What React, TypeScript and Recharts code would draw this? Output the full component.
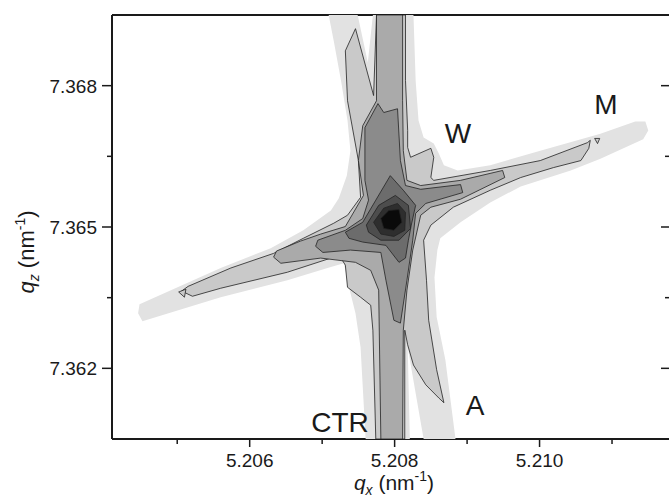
import { ScatterChart, Scatter, XAxis, YAxis } from "recharts";

// reciprocal space map around the (hkl) peak, contour levels drawn as filled polygons
type Pt = [number, number]; // [qx, qz] in nm^-1

const X_DOMAIN = [5.2041, 5.2118];
const Y_DOMAIN = [7.3605, 7.3695];
const X_TICKS = [5.205, 5.206, 5.207, 5.208, 5.209, 5.21, 5.211];
const X_LABELS = [5.206, 5.208, 5.21];
const Y_TICKS = [7.362, 7.3635, 7.365, 7.3665, 7.368];
const Y_LABELS = [7.362, 7.365, 7.368];

// outermost (lowest intensity) level
const LEVEL0: Pt[] = [
  [5.20448, 7.36336], [5.2056, 7.36413], [5.20629, 7.36455], [5.20674, 7.36493],
  [5.20712, 7.36535], [5.20723, 7.36561], [5.20734, 7.36609], [5.20739, 7.36662],
  [5.20735, 7.36726], [5.20726, 7.36811], [5.20716, 7.36895], [5.20709, 7.3695],
  [5.20749, 7.3695], [5.20763, 7.36849], [5.2077, 7.3695], [5.20826, 7.3695],
  [5.20829, 7.36811], [5.20833, 7.36726], [5.2084, 7.3669], [5.20854, 7.36677],
  [5.20861, 7.36656], [5.20868, 7.36631], [5.20887, 7.3662], [5.20932, 7.36631],
  [5.21001, 7.36662], [5.21084, 7.36698], [5.21132, 7.36724], [5.21146, 7.36724],
  [5.2115, 7.36705], [5.21143, 7.36686], [5.21084, 7.36645], [5.21043, 7.3662],
  [5.21001, 7.36599], [5.20974, 7.36586], [5.20932, 7.36552], [5.20891, 7.3651],
  [5.20863, 7.36476], [5.20859, 7.36451], [5.20855, 7.36393], [5.20858, 7.36309],
  [5.2087, 7.36218], [5.20884, 7.3605], [5.2084, 7.3605], [5.20818, 7.36245],
  [5.20821, 7.3605], [5.2076, 7.3605], [5.20753, 7.36245], [5.20746, 7.36317],
  [5.20739, 7.3636], [5.20735, 7.36387], [5.2073, 7.36423], [5.20712, 7.36415],
  [5.20652, 7.36387], [5.2056, 7.36351], [5.20452, 7.363], [5.20446, 7.36317],
];

const LEVEL1: Pt[] = [
  [5.20506, 7.36364], [5.20515, 7.36374], [5.20574, 7.36413], [5.20633, 7.36444],
  [5.20674, 7.36476], [5.20716, 7.36508], [5.20735, 7.36525], [5.20753, 7.36563],
  [5.2075, 7.36641], [5.20735, 7.36768], [5.20732, 7.36874], [5.20746, 7.36921],
  [5.20771, 7.36779], [5.20775, 7.3695], [5.20815, 7.3695], [5.20815, 7.36811],
  [5.20818, 7.36705], [5.20818, 7.36669], [5.20822, 7.36648], [5.2085, 7.36667],
  [5.20854, 7.36648], [5.2085, 7.36605], [5.20854, 7.36599], [5.20932, 7.3662],
  [5.21001, 7.36641], [5.21066, 7.36679], [5.2107, 7.36684], [5.21068, 7.36667],
  [5.21057, 7.36641], [5.21019, 7.36626], [5.20974, 7.36605], [5.20932, 7.36578],
  [5.20881, 7.36542], [5.2085, 7.36504], [5.2084, 7.36472], [5.20844, 7.36387],
  [5.20847, 7.36302], [5.20858, 7.36197], [5.20868, 7.36127], [5.20861, 7.36137],
  [5.20843, 7.36165], [5.20826, 7.36207], [5.20818, 7.3625], [5.20814, 7.36281],
  [5.20814, 7.3605], [5.20774, 7.3605], [5.2077, 7.36281], [5.20767, 7.36334],
  [5.20753, 7.36351], [5.20735, 7.36372], [5.20732, 7.36419], [5.20726, 7.36434],
  [5.20712, 7.36434], [5.20652, 7.36404], [5.2056, 7.3637], [5.20521, 7.36353],
];
const LEVEL1_TIP_LEFT: Pt[] = [[5.20502, 7.36362], [5.20512, 7.36368], [5.2051, 7.36351]];
const LEVEL1_TIP_RIGHT: Pt[] = [[5.21076, 7.36688], [5.21083, 7.36688], [5.2108, 7.36677]];

const LEVEL2: Pt[] = [
  [5.20633, 7.36436], [5.20637, 7.36449], [5.2067, 7.3647], [5.20698, 7.36485],
  [5.20732, 7.36501], [5.20757, 7.36567], [5.2075, 7.36641], [5.20756, 7.36715],
  [5.20775, 7.36768], [5.20775, 7.3695], [5.20811, 7.3695], [5.20811, 7.36768],
  [5.20812, 7.36662], [5.20817, 7.36599], [5.20836, 7.36588], [5.20891, 7.36599],
  [5.20949, 7.3662], [5.20952, 7.36605], [5.20891, 7.36559], [5.2085, 7.36542],
  [5.20836, 7.36525], [5.20825, 7.36451], [5.20817, 7.36366], [5.20812, 7.36281],
  [5.20811, 7.3605], [5.20781, 7.3605], [5.20778, 7.36366], [5.20767, 7.36408],
  [5.20746, 7.36425], [5.20698, 7.36434], [5.20643, 7.36423],
];

const LEVEL3: Pt[] = [
  [5.20691, 7.36459], [5.20694, 7.36472], [5.20732, 7.36493], [5.20756, 7.36518],
  [5.20764, 7.36557], [5.20759, 7.36599], [5.20759, 7.36711], [5.20777, 7.36762],
  [5.20785, 7.36743], [5.20804, 7.36751], [5.20808, 7.36641], [5.20815, 7.36588],
  [5.20836, 7.3658], [5.20891, 7.3659], [5.20894, 7.36573], [5.20843, 7.3655],
  [5.20829, 7.36529], [5.20825, 7.36472], [5.20817, 7.36387], [5.20808, 7.36296],
  [5.20799, 7.36302], [5.20788, 7.36387], [5.20781, 7.36446], [5.20739, 7.36451],
  [5.20701, 7.36446],
];

const LEVEL4: Pt[] = [
  [5.20732, 7.36489], [5.20756, 7.3651], [5.20774, 7.36557], [5.20794, 7.36609],
  [5.20812, 7.36578], [5.20829, 7.36546], [5.20823, 7.36504], [5.20819, 7.36472],
  [5.20815, 7.36434], [5.20806, 7.36425], [5.20788, 7.36461], [5.20756, 7.36468],
  [5.20737, 7.36476],
];

const LEVEL5: Pt[] = [
  [5.20761, 7.36504], [5.20778, 7.36546], [5.20801, 7.36567], [5.20819, 7.36546],
  [5.20822, 7.36497], [5.20806, 7.36472], [5.20781, 7.36472], [5.20764, 7.36489],
];

const LEVEL6: Pt[] = [
  [5.20771, 7.3651], [5.20785, 7.3654], [5.20804, 7.3655], [5.20815, 7.36531],
  [5.20814, 7.36493], [5.20799, 7.3648], [5.20781, 7.36485],
];

const LEVEL7: Pt[] = [
  [5.20781, 7.36518], [5.20792, 7.36535], [5.20806, 7.36537], [5.2081, 7.3651],
  [5.20799, 7.36493], [5.20785, 7.36497],
];

const CONTOURS: { pts: Pt[]; fill: string; outline: boolean }[] = [
  { pts: LEVEL0, fill: "#e2e2e2", outline: false },
  { pts: LEVEL1, fill: "#c9c9c9", outline: true },
  { pts: LEVEL1_TIP_LEFT, fill: "#c9c9c9", outline: true },
  { pts: LEVEL1_TIP_RIGHT, fill: "#c9c9c9", outline: true },
  { pts: LEVEL2, fill: "#aaaaaa", outline: true },
  { pts: LEVEL3, fill: "#8b8b8b", outline: true },
  { pts: LEVEL4, fill: "#6c6c6c", outline: true },
  { pts: LEVEL5, fill: "#4d4d4d", outline: true },
  { pts: LEVEL6, fill: "#2e2e2e", outline: true },
  { pts: LEVEL7, fill: "#0a0a0a", outline: true },
];

const FONT = "'Liberation Sans', Arial, Helvetica, sans-serif";
const INK = "#1a1a1a";

const near = (v: number, list: number[]) => list.some((l) => Math.abs(l - v) < 1e-7);
const closed = (pts: Pt[]) => [...pts, pts[0]].map(([x, y]) => ({ x, y }));
const NoDot = () => <g />;

function BottomTick({ x, y, payload }: any) {
  const major = near(payload.value, X_LABELS);
  return (
    <g>
      <line x1={x} x2={x} y1={y} y2={y + (major ? 8 : 5)} stroke={INK} strokeWidth={1.5} />
      {major && (
        <text x={x} y={y + 28} textAnchor="middle" fontSize={19} fontFamily={FONT} fill={INK}>
          {payload.value.toFixed(3)}
        </text>
      )}
    </g>
  );
}

function TopTick({ x, y, payload }: any) {
  const major = near(payload.value, X_LABELS);
  return <line x1={x} x2={x} y1={y} y2={y + (major ? 9 : 5)} stroke={INK} strokeWidth={1.5} />;
}

function LeftTick({ x, y, payload }: any) {
  const major = near(payload.value, Y_LABELS);
  return (
    <g>
      <line x1={x} x2={x - (major ? 10 : 5)} y1={y} y2={y} stroke={INK} strokeWidth={1.5} />
      {major && (
        <text x={x - 15} y={y + 7} textAnchor="end" fontSize={19} fontFamily={FONT} fill={INK}>
          {payload.value.toFixed(3)}
        </text>
      )}
    </g>
  );
}

function RightTick({ x, y, payload }: any) {
  const major = near(payload.value, Y_LABELS);
  return <line x1={x} x2={x - (major ? 9 : 5)} y1={y} y2={y} stroke={INK} strokeWidth={1.5} />;
}

export default function App() {
  const axisLine = { stroke: INK, strokeWidth: 2 };
  return (
    <div
      style={{
        position: "fixed",
        left: 0,
        top: 0,
        width: 669,
        height: 497,
        overflow: "hidden",
        background: "#fff",
      }}
    >
      <ScatterChart width={672} height={497} margin={{ top: 14, right: 1, bottom: 0, left: 0 }}>
        <XAxis
          xAxisId="b"
          dataKey="x"
          type="number"
          domain={X_DOMAIN}
          ticks={X_TICKS}
          interval={0}
          allowDataOverflow
          height={58}
          tickSize={0}
          tickMargin={0}
          tickLine={false}
          axisLine={axisLine}
          tick={(p: any) => <BottomTick {...p} />}
        />
        <XAxis
          xAxisId="t"
          orientation="top"
          type="number"
          domain={X_DOMAIN}
          ticks={X_TICKS}
          interval={0}
          allowDataOverflow
          height={1}
          tickSize={0}
          tickMargin={0}
          tickLine={false}
          axisLine={axisLine}
          tick={(p: any) => <TopTick {...p} />}
        />
        <YAxis
          yAxisId="l"
          dataKey="y"
          type="number"
          domain={Y_DOMAIN}
          ticks={Y_TICKS}
          interval={0}
          allowDataOverflow
          width={112}
          tickSize={0}
          tickMargin={0}
          tickLine={false}
          axisLine={axisLine}
          tick={(p: any) => <LeftTick {...p} />}
        />
        <YAxis
          yAxisId="r"
          orientation="right"
          type="number"
          domain={Y_DOMAIN}
          ticks={Y_TICKS}
          interval={0}
          allowDataOverflow
          width={1}
          tickSize={0}
          tickMargin={0}
          tickLine={false}
          axisLine={axisLine}
          tick={(p: any) => <RightTick {...p} />}
        />
        {CONTOURS.map((c, i) => (
          <Scatter
            key={i}
            xAxisId="b"
            yAxisId="l"
            data={closed(c.pts)}
            fill="none"
            line={{
              fill: c.fill,
              stroke: c.outline ? "#222" : "none",
              strokeWidth: c.outline ? 0.8 : 0,
            }}
            lineType="joint"
            lineJointType="linear"
            shape={NoDot}
            isAnimationActive={false}
          />
        ))}
      </ScatterChart>
      <svg
        width={669}
        height={497}
        style={{ position: "absolute", left: 0, top: 0, pointerEvents: "none" }}
        fontFamily={FONT}
        fill={INK}
      >
        <text x={394} y={490} textAnchor="middle" fontSize={21}>
          <tspan fontStyle="italic">q</tspan>
          <tspan fontSize={14} dy={5} fontStyle="italic">x</tspan>
          <tspan dy={-5}> (nm</tspan>
          <tspan fontSize={14} dy={-9}>-1</tspan>
          <tspan dy={9}>)</tspan>
        </text>
        <text x={34} y={252} textAnchor="middle" fontSize={22} transform="rotate(-90 34 252)">
          <tspan fontStyle="italic">q</tspan>
          <tspan fontSize={14} dy={5} fontStyle="italic">z</tspan>
          <tspan dy={-5}> (nm</tspan>
          <tspan fontSize={14} dy={-9}>-1</tspan>
          <tspan dy={9}>)</tspan>
        </text>
        <text x={458} y={143} textAnchor="middle" fontSize={28}>W</text>
        <text x={606} y={114} textAnchor="middle" fontSize={28}>M</text>
        <text x={475} y={415} textAnchor="middle" fontSize={28}>A</text>
        <text x={340} y={432} textAnchor="middle" fontSize={28}>CTR</text>
      </svg>
    </div>
  );
}
